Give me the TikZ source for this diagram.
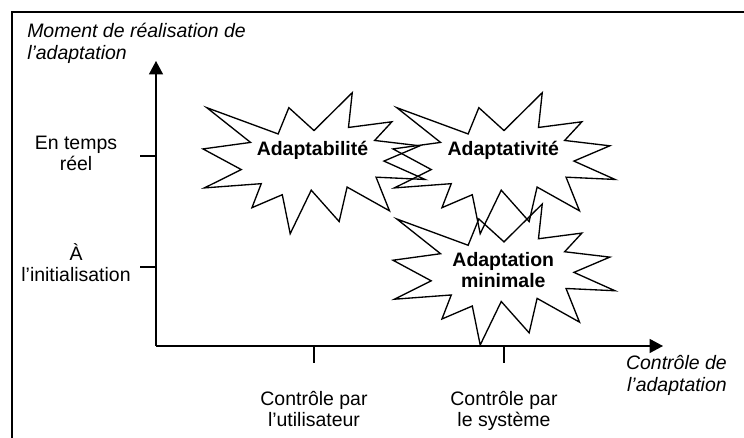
\documentclass[tikz,border=0pt]{standalone}
\usepackage{fontspec}
\setmainfont{Liberation Sans}
\usetikzlibrary{arrows.meta}

\tikzset{
  burst/.pic={
    \draw[line width=1pt] (0.500,0.2685) -- (0.6723,0) -- (0.6553,0.2465)
      -- (0.8509,0.2063) -- (0.7732,0.3387) -- (0.9767,0.3767)
      -- (0.8151,0.4850) -- (1,0.6153) -- (0.7795,0.5992)
      -- (0.8400,0.8377) -- (0.6491,0.6693) -- (0.6133,0.9138)
      -- (0.4876,0.6914) -- (0.3928,1) -- (0.3572,0.7235)
      -- (0.2205,0.8156) -- (0.2624,0.6452) -- (0.0063,0.6753)
      -- (0.1723,0.5451) -- (0,0.3988) -- (0.2142,0.3526)
      -- (0.0171,0.1063) -- (0.3385,0.2926) -- (0.3867,0.1063) -- cycle;
  },
  axis/.style={line width=0.9pt, -{Triangle[length=10pt,width=10.5pt]}},
  axistick/.style={line width=0.9pt},
  lbl/.style={font=\fontsize{14.6}{16}\selectfont, align=center, inner sep=0pt},
  axislbl/.style={lbl, font=\fontsize{14.6}{16.5}\selectfont\itshape},
  burstlbl/.style={lbl, font=\fontsize{14.6}{16}\selectfont\bfseries},
}

\begin{document}
\begin{tikzpicture}[x=0.75pt, y=-0.75pt]
  \useasboundingbox (0,0) rectangle (744,438);

  % frame
  \draw[line width=1.5pt] (744,12) -- (12,12) -- (12,438);

  % axes
  \coordinate (origin) at (156,346);
  \coordinate (ytip) at (156,61);
  \coordinate (xtip) at (663,346);
  \draw[axis] (origin) -- (ytip);
  \draw[axis] (origin) -- (xtip);

  % ticks
  \coordinate (yt1) at (156,156);
  \coordinate (yt2) at (156,267);
  \coordinate (xt1) at (314,346);
  \coordinate (xt2) at (504,346);
  \draw[axistick] (yt1) -- ++(-16,0);
  \draw[axistick] (yt2) -- ++(-16,0);
  \draw[axistick] (xt1) -- ++(0,17);
  \draw[axistick] (xt2) -- ++(0,17);

  % axis titles (base = last line)
  \node[axislbl, align=left, anchor=base west] (ytitle) at (27,60)
    {Moment de réalisation de\\l’adaptation};
  \node[axislbl, align=right, anchor=base east] (xtitle) at (727,392)
    {Contrôle de\\l’adaptation};

  % tick labels
  \node[lbl, anchor=base] (reel) at (76,171) {En temps\\réel};
  \node[lbl, anchor=base] (init) at (76,282) {À\\l’initialisation};
  \node[lbl, anchor=base] (user) at (314,427) {Contrôle par\\l’utilisateur};
  \node[lbl, anchor=base] (systeme) at (504,427) {Contrôle par\\le système};

  % explosions
  \pic[xscale=222, yscale=141] at (203,92.7) {burst};
  \pic[xscale=222, yscale=141] at (393,92.7) {burst};
  \pic[xscale=222, yscale=141] at (393,204) {burst};
  \node[burstlbl, anchor=base] (adaptabilite) at (312.5,156) {Adaptabilité};
  \node[burstlbl, anchor=base] (adaptativite) at (503.3,156) {Adaptativité};
  \node[burstlbl, anchor=base] (minimale) at (503.3,287.5) {Adaptation\\minimale};
\end{tikzpicture}
\end{document}
